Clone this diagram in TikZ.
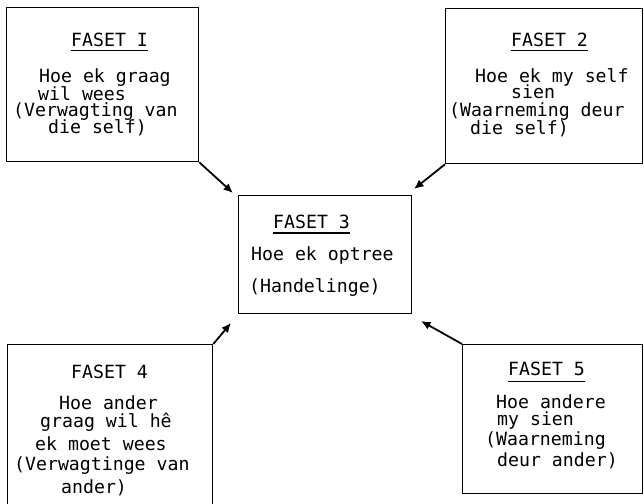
\documentclass[tikz,border=0pt]{standalone}
\usepackage{fontspec}
\newfontfamily\tw{DejaVu Sans Mono}
\usetikzlibrary{arrows.meta}
\tikzset{
  box/.style={draw=black, line width=1.3pt, rectangle, inner sep=0pt, anchor=north west},
  txt/.style={font=\tw\fontsize{18.2}{18}\selectfont, inner sep=0pt, anchor=base west},
  uline/.style={line width=1.1pt},
  arr/.style={line width=1.8pt, -{Latex[length=9.5pt,width=8.5pt]}}
}
\begin{document}
\begin{tikzpicture}[x=1pt,y=-1pt]
\useasboundingbox (0,0) rectangle (644,503);
\clip (0,0) rectangle (644,503);
\fill[white] (0,0) rectangle (644,503);
% boxes
\node[box, minimum width=192pt, minimum height=154pt] (b1) at (6,7) {};
\node[box, minimum width=197pt, minimum height=155pt] (b2) at (445,8) {};
\node[box, minimum width=173pt, minimum height=118pt] (b3) at (238,195) {};
\node[box, minimum width=205pt, minimum height=165pt] (b4) at (7,344) {};
\node[box, minimum width=180pt, minimum height=149pt] (b5) at (462,344) {};
% box 1 text
\node[txt] (t1a) at (71,46.7) {FASET I};
\node[txt] (t1b) at (39,82) {Hoe ek graag};
\node[txt] (t1c) at (38,100) {wil wees};
\node[txt] (t1d) at (13,116.5) {(Verwagting van};
\node[txt] (t1e) at (48,133.5) {die self)};
% box 2 text
\node[txt] (t2a) at (511,46.7) {FASET 2};
\node[txt] (t2b) at (475,82) {Hoe ek my self};
\node[txt] (t2c) at (511,98.5) {sien};
\node[txt] (t2d) at (449,116.5) {(Waarneming deur};
\node[txt] (t2e) at (470,134.5) {die self)};
% box 3 text
\node[txt] (t3a) at (273,228) {FASET 3};
\node[txt] (t3b) at (251,260) {Hoe ek optree};
\node[txt] (t3c) at (249,292) {(Handelinge)};
% box 4 text
\node[txt] (t4a) at (71,378) {FASET 4};
\node[txt] (t4b) at (59,409) {Hoe ander};
\node[txt] (t4c) at (40,427) {graag wil hê};
\node[txt] (t4d) at (35,450) {ek moet wees};
\node[txt] (t4e) at (14,470) {(Verwagtinge van};
\node[txt] (t4f) at (61,493) {ander)};
% box 5 text
\node[txt] (t5a) at (508,375.5) {FASET 5};
\node[txt] (t5b) at (496,408) {Hoe andere};
\node[txt] (t5c) at (497,425) {my sien};
\node[txt] (t5d) at (485,445) {(Waarneming};
\node[txt] (t5e) at (497,466) {deur ander)};
% underlines
\draw[uline] ([yshift=-4pt]t1a.base west) -- ([yshift=-4pt]t1a.base east);
\draw[uline] ([yshift=-4pt]t2a.base west) -- ([yshift=-4pt]t2a.base east);
\draw[uline] ([yshift=-5pt]t3a.base west) -- ([yshift=-5pt]t3a.base east);
\draw[uline] ([yshift=-6pt]t5a.base west) -- ([yshift=-6pt]t5a.base east);
% arrow tips
\coordinate (p1) at (233,193);
\coordinate (p2) at (414,189);
\coordinate (p4) at (231,323);
\coordinate (p5) at (421,321);
\draw[arr] (b1.south east) -- (p1);
\draw[arr] (b2.south west) -- (p2);
\draw[arr] (b4.north east) -- (p4);
\draw[arr] (b5.north west) -- (p5);
\end{tikzpicture}
\end{document}
